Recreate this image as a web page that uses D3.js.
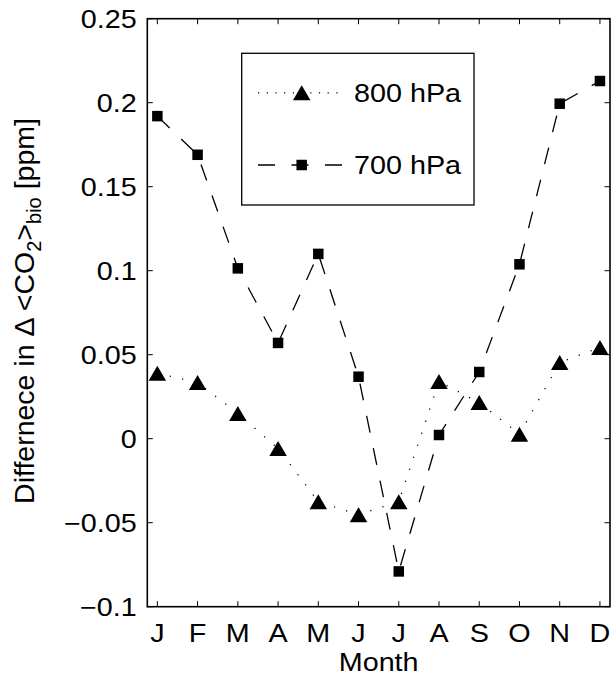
<!DOCTYPE html>
<html><head><meta charset="utf-8">
<script src="https://cdn.jsdelivr.net/npm/d3@7"></script>
<style>body{margin:0;background:#fff}svg{display:block}text{font-family:"Liberation Sans",Arial,Helvetica,sans-serif;fill:#000}</style>
</head><body>
<script>
const months = ["J","F","M","A","M","J","J","A","S","O","N","D"];
const p800 = [0.039,0.0334,0.015,-0.0058,-0.0375,-0.0452,-0.0375,0.034,0.0215,0.0027,0.0454,0.0543];
const p700 = [0.192,0.169,0.1014,0.057,0.110,0.0369,-0.079,0.0022,0.0397,0.1038,0.1994,0.2129];
const yTicks = [-0.1,-0.05,0,0.05,0.1,0.15,0.2,0.25];
const yTickLabels = ["\u22120.1","\u22120.05","0","0.05","0.1","0.15","0.2","0.25"];
const seriesNames = ["800 hPa","700 hPa"];

const W=611,H=679;
const L=147.3,R=610,T=18.7,B=606.7;
const FS=25, SX=1.15;
const svg=d3.select("body").append("svg").attr("width",W).attr("height",H);
const x=d3.scaleLinear().domain([0.75,12.25]).range([L,R]);
const y=d3.scaleLinear().domain([-0.1,0.25]).range([B,T]);
const idx=d3.range(1,13);

function txt(g,xx,yy,s,anchor){
  return g.append("text").attr("transform",`translate(${xx},${yy}) scale(${SX},1)`)
    .attr("text-anchor",anchor||"start").attr("font-size",FS).text(s);
}

// frame
svg.append("rect").attr("x",L).attr("y",T).attr("width",R-L).attr("height",B-T)
  .attr("fill","none").attr("stroke","#000").attr("stroke-width",1.6);
const tk=5.5;
const ticks=svg.append("g").attr("stroke","#000").attr("stroke-width",1);
idx.forEach(i=>{
  ticks.append("line").attr("x1",x(i)).attr("x2",x(i)).attr("y1",B).attr("y2",B-tk);
  ticks.append("line").attr("x1",x(i)).attr("x2",x(i)).attr("y1",T).attr("y2",T+tk);
});
yTicks.forEach(v=>{
  ticks.append("line").attr("x1",L).attr("x2",L+tk).attr("y1",y(v)).attr("y2",y(v));
  ticks.append("line").attr("x1",R).attr("x2",R-tk).attr("y1",y(v)).attr("y2",y(v));
});
// tick labels
const lab=svg.append("g");
yTicks.forEach((v,i)=>{
  txt(lab,L-10.5,y(v)+9,yTickLabels[i],"end");
});
months.forEach((m,i)=>{
  txt(lab,x(i+1),642,m,"middle");
});
txt(lab,(L+R)/2,671,"Month","middle");

// y label
const yl=svg.append("text").attr("transform",`translate(34,311) rotate(-90)`)
  .attr("text-anchor","middle").attr("font-size",28.5);
yl.append("tspan").text("Differnece in \u0394 <CO");
yl.append("tspan").attr("font-size",20).attr("dy",6.5).text("2");
yl.append("tspan").attr("dy",-6.5).text(">");
yl.append("tspan").attr("font-size",20).attr("dy",6.5).text("bio");
yl.append("tspan").attr("dy",-6.5).text(" [ppm]");

const line=d3.line().x((d,i)=>x(i+1)).y(d=>y(d));
function triangle(g,cx,cy){
  const w=17.5,h=15;
  g.append("path").attr("d",`M${cx},${cy-h/2}L${cx+w/2},${cy+h/2}L${cx-w/2},${cy+h/2}Z`).attr("fill","#000");
}
function square(g,cx,cy){
  const s=10.5;
  g.append("rect").attr("x",cx-s/2).attr("y",cy-s/2).attr("width",s).attr("height",s).attr("fill","#000");
}
// 800 hPa
svg.append("path").datum(p800).attr("d",line).attr("fill","none").attr("stroke","#000")
  .attr("stroke-width",1.3).attr("stroke-dasharray","1.2,11.5");
const g8=svg.append("g");
p800.forEach((v,i)=>triangle(g8,x(i+1),y(v)));
// 700 hPa
svg.append("path").datum(p700).attr("d",line).attr("fill","none").attr("stroke","#000")
  .attr("stroke-width",1.3).attr("stroke-dasharray","17,16");
const g7=svg.append("g");
p700.forEach((v,i)=>square(g7,x(i+1),y(v)));

// legend
const lg=svg.append("g");
lg.append("rect").attr("x",241.7).attr("y",53.3).attr("width",474-241.7).attr("height",205-53.3)
  .attr("fill","#fff").attr("stroke","#000").attr("stroke-width",1.3);
const ly=[92.8,165];
lg.append("line").attr("x1",258).attr("x2",343).attr("y1",ly[0]).attr("y2",ly[0])
  .attr("stroke","#000").attr("stroke-width",1.3).attr("stroke-dasharray","1.2,7.5");
triangle(lg,301.7,ly[0]);
lg.append("line").attr("x1",258).attr("x2",343).attr("y1",ly[1]).attr("y2",ly[1])
  .attr("stroke","#000").attr("stroke-width",1.3).attr("stroke-dasharray","17,16.5");
square(lg,301.7,ly[1]);
txt(lg,354,ly[0]+9,seriesNames[0]);
txt(lg,354,ly[1]+9,seriesNames[1]);
</script>
</body></html>
